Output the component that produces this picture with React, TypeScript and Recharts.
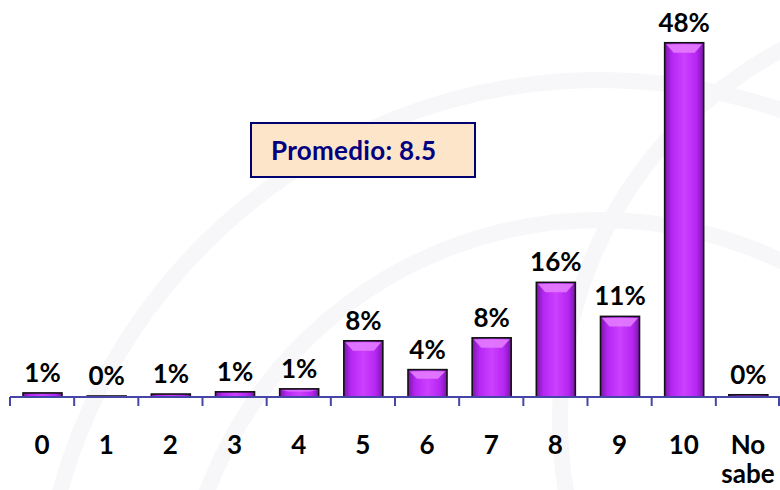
import React from 'react';
import { BarChart, Bar, XAxis, YAxis, LabelList } from 'recharts';

const categories = ['0', '1', '2', '3', '4', '5', '6', '7', '8', '9', '10', 'No sabe'];
const values = [0.55, 0.1, 0.4, 0.7, 1.1, 7.6, 3.7, 8.0, 15.5, 10.9, 47.9, 0.3];
const valueLabels = ['1%', '0%', '1%', '1%', '1%', '8%', '4%', '8%', '16%', '11%', '48%', '0%'];
const averageText = 'Promedio: 8.5';

const data = categories.map((c, i) => ({ name: c, value: values[i], label: valueLabels[i] }));

const FONT = 'Lato, "Open Sans", sans-serif';
const CHART_W = 780;
const CHART_H = 490;
const LEFT = 10;
const BAND = (CHART_W - LEFT) / categories.length;

const BarShape = (props: any) => {
  const { x, y, width, height } = props;
  if (height == null || width == null) return null;
  const h = Math.max(height, 1);
  const top = y + height - h;
  const bevel = Math.min(10, h / 3);
  return (
    <g>
      <rect x={x} y={top} width={width} height={h} fill="url(#barGrad)" stroke="#111" strokeWidth={1.6} />
      {h > 8 && (
        <polygon
          points={`${x + 1.5},${top + 1.5} ${x + width - 1.5},${top + 1.5} ${x + width - 9},${top + bevel} ${x + 9},${top + bevel}`}
          fill="#e37bff"
          opacity={0.9}
        />
      )}
    </g>
  );
};

const Tick = (props: any) => {
  const { x, y, payload, index } = props;
  const lines = String(payload.value).split(' ');
  const isLast = index === categories.length - 1;
  return (
    <g>
      <line x1={x - BAND / 2} x2={x - BAND / 2} y1={y} y2={y + 9} stroke="#4646a8" strokeWidth={2} />
      {isLast && <line x1={x + BAND / 2 - 1} x2={x + BAND / 2 - 1} y1={y} y2={y + 9} stroke="#4646a8" strokeWidth={2} />}
      {lines.map((l, i) => (
        <text key={i} x={x} y={y + 57 + i * 29} textAnchor="middle" fontFamily={FONT} fontWeight={700} fontSize={26} fill="#000">
          {l}
        </text>
      ))}
    </g>
  );
};

const Watermark = () => (
  <svg width={CHART_W} height={CHART_H} style={{ position: 'absolute', left: 0, top: 0 }}>
    <g fill="none" stroke="#f7f7f9" strokeWidth={16}>
      <circle cx={600} cy={640} r={560} />
      <circle cx={600} cy={640} r={420} />
      <circle cx={980} cy={420} r={420} />
    </g>
  </svg>
);

export default function App() {
  return (
    <div style={{ position: 'absolute', left: 0, top: 0, width: CHART_W, height: CHART_H, background: '#fff' }}>
      <Watermark />
      <div style={{ position: 'absolute', left: 0, top: 0 }}>
        <BarChart width={CHART_W} height={CHART_H} data={data} margin={{ top: 42, right: 0, left: LEFT, bottom: 0 }}>
          <defs>
            <linearGradient id="barGrad" x1="0" y1="0" x2="1" y2="0">
              <stop offset="0%" stopColor="#7a16a8" />
              <stop offset="18%" stopColor="#b526f2" />
              <stop offset="50%" stopColor="#cc40ff" />
              <stop offset="82%" stopColor="#b526f2" />
              <stop offset="100%" stopColor="#7a16a8" />
            </linearGradient>
          </defs>
          <XAxis
            dataKey="name"
            height={CHART_H - 397}
            axisLine={{ stroke: '#4646a8', strokeWidth: 2 }}
            tickLine={false}
            tickSize={0}
            tickMargin={0}
            interval={0}
            tick={<Tick />}
          />
          <YAxis hide domain={[0, 48]} />
          <Bar dataKey="value" barSize={39} shape={<BarShape />} isAnimationActive={false}>
            <LabelList dataKey="label" position="top" offset={11} fontFamily={FONT} fontWeight={700} fontSize={26} fill="#000" />
          </Bar>
        </BarChart>
      </div>
      <div
        style={{
          position: 'absolute',
          left: 250,
          top: 122,
          width: 226,
          height: 56,
          boxSizing: 'border-box',
          border: '2px solid #000070',
          background: '#fde5c9',
          fontFamily: FONT,
          fontWeight: 700,
          fontSize: 26,
          letterSpacing: 0.3,
          color: '#000080',
          paddingLeft: 19,
          lineHeight: '52px',
        }}
      >
        {averageText}
      </div>
    </div>
  );
}
